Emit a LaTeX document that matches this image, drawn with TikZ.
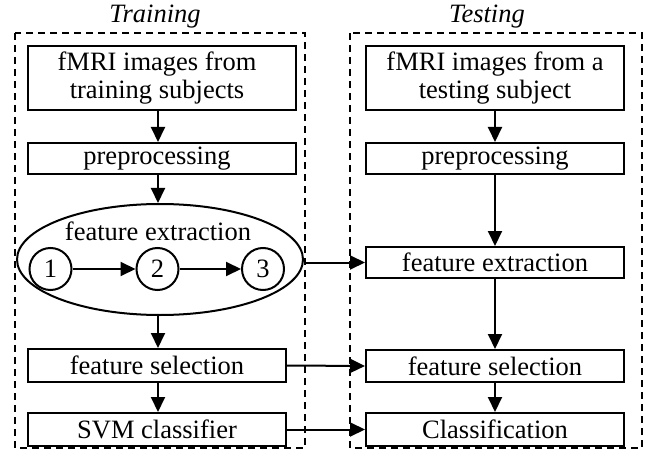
\documentclass[tikz,border=0pt]{standalone}
\usepackage{fontspec}
\setmainfont{Liberation Serif}
\usetikzlibrary{arrows.meta,shapes.geometric}
\begin{document}
\begin{tikzpicture}[x=1pt,y=-1pt,
  line width=2pt,
  every node/.style={font=\fontsize{26.5}{28}\selectfont, inner sep=0pt},
  stepbox/.style={draw, rectangle, align=center},
  numcirc/.style={draw, circle, minimum size=42pt},
  frame/.style={draw, dash pattern=on 7pt off 5pt, line width=1.8pt},
  arr/.style={-{Triangle[length=15pt,width=14pt]}}
]
\useasboundingbox (0,0) rectangle (650,457);
% frames
\draw[frame] (15,33) rectangle (305,448);
\draw[frame] (350,33) rectangle (642,448);
\node[anchor=base, font=\fontsize{26.5}{28}\selectfont\itshape] (ltrain) at (155,23) {Training};
\node[anchor=base, font=\fontsize{26.5}{28}\selectfont\itshape] (ltest) at (487,23) {Testing};
% training column
\node[stepbox, minimum width=268pt, minimum height=64pt] (tr1) at (162,78) {\hspace*{-10pt}fMRI images from\\\hspace*{-10pt}training subjects};
\node[stepbox, minimum width=268pt, minimum height=31pt] (tr2) at (162,158.5) {\hspace*{-10pt}preprocessing};
\node[draw, ellipse, minimum width=286pt, minimum height=111pt] (ell) at (160,259.5) {};
\node[anchor=base] (fetext) at (158,240) {feature extraction};
\node[numcirc] (c1) at (50.5,269) {1};
\node[numcirc] (c2) at (157.5,269) {2};
\node[numcirc] (c3) at (263,269) {3};
\node[stepbox, minimum width=258pt, minimum height=33pt] (tr3) at (157,365.5) {feature selection};
\node[stepbox, minimum width=258pt, minimum height=33pt] (tr4) at (157,429.5) {SVM classifier};
% testing column
\node[stepbox, minimum width=258pt, minimum height=64pt] (te1) at (495,78) {fMRI images from a\\testing subject};
\node[stepbox, minimum width=258pt, minimum height=31pt] (te2) at (495,158.5) {preprocessing};
\node[stepbox, minimum width=258pt, minimum height=31pt] (te3) at (495,262.5) {feature extraction};
\node[stepbox, minimum width=258pt, minimum height=32pt] (te4) at (495,366) {feature selection};
\node[stepbox, minimum width=258pt, minimum height=33pt] (te5) at (495,429.5) {Classification};
% arrows
\draw[arr] (tr1.south -| 158,0) -- (tr2.north -| 158,0);
\draw[arr] (tr2.south -| 158,0) -- (ell.north -| 158,0);
\draw[arr] (c1) -- (c2);
\draw[arr] (c2) -- (c3);
\draw[arr] (ell.south -| 158,0) -- (tr3.north -| 158,0);
\draw[arr] (tr3.south -| 158,0) -- (tr4.north -| 158,0);
\draw[arr] (te1) -- (te2);
\draw[arr] (te2) -- (te3);
\draw[arr] (te3) -- (te4);
\draw[arr] (te4) -- (te5);
\draw[arr] (te3.west -| ell.east) -- (te3.west);
\draw[arr] (tr3.east) -- (te4.west);
\draw[arr] (tr4.east) -- (te5.west);
\end{tikzpicture}
\end{document}
